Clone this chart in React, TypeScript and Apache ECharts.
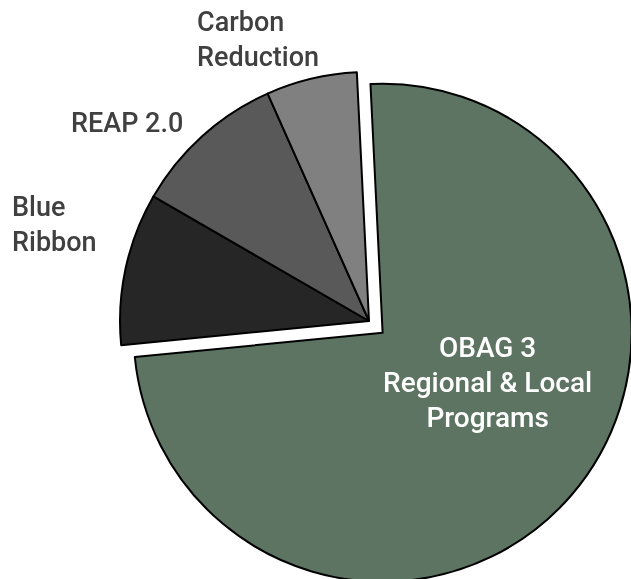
import React, { useEffect, useRef } from "react";
import * as echarts from "echarts";

const categories = ["OBAG 3\nRegional & Local\nPrograms", "Blue\nRibbon", "REAP 2.0", "Carbon\nReduction"];
const values = [74.3, 9.9, 10.0, 5.9];
const colors = ["#5d7463", "#262626", "#595959", "#808080"];

const labelPlacement: { x: number; y: number; align: string; color: string }[] = [
  { x: 488, y: 330, align: "center", color: "#ffffff" },
  { x: 12, y: 189, align: "left", color: "#404040" },
  { x: 71, y: 105, align: "left", color: "#404040" },
  { x: 197, y: 4, align: "left", color: "#404040" },
];

export default function App() {
  const ref = useRef<HTMLDivElement>(null);
  useEffect(() => {
    if (!ref.current) return;
    const chart = echarts.init(ref.current, undefined, { renderer: "svg" });
    chart.setOption({
      animation: false,
      series: [
        {
          type: "pie",
          center: [369, 321],
          radius: [0, 249],
          startAngle: 92.8,
          clockwise: true,
          avoidLabelOverlap: false,
          selectedMode: "single",
          selectedOffset: 18,
          emphasis: { disabled: true },
          itemStyle: { borderColor: "#000", borderWidth: 2 },
          label: {
            show: true,
            position: "outside",
            fontFamily: "Roboto",
            fontWeight: 500,
            fontSize: 27,
            lineHeight: 35,
          },
          labelLine: { show: false },
          labelLayout: (params: any) => {
            if (params.dataIndex === 0) return { dx: 105, dy: 50 };
            const p = labelPlacement[params.dataIndex];
            return { x: p.x, y: p.y, align: p.align, verticalAlign: "top" };
          },
          data: categories.map((name, i) => ({
            name,
            value: values[i],
            selected: i === 0,
            itemStyle: { color: colors[i] },
            select: { itemStyle: { color: colors[i], borderColor: "#000", borderWidth: 2 } },
            label:
              i === 0
                ? { position: "center", color: labelPlacement[i].color, align: "center", fontSize: 28 }
                : { color: labelPlacement[i].color, align: labelPlacement[i].align },
          })),
        },
      ],
    });
    return () => chart.dispose();
  }, []);
  return <div ref={ref} style={{ position: "fixed", left: 0, top: 0, width: 631, height: 579 }} />;
}
